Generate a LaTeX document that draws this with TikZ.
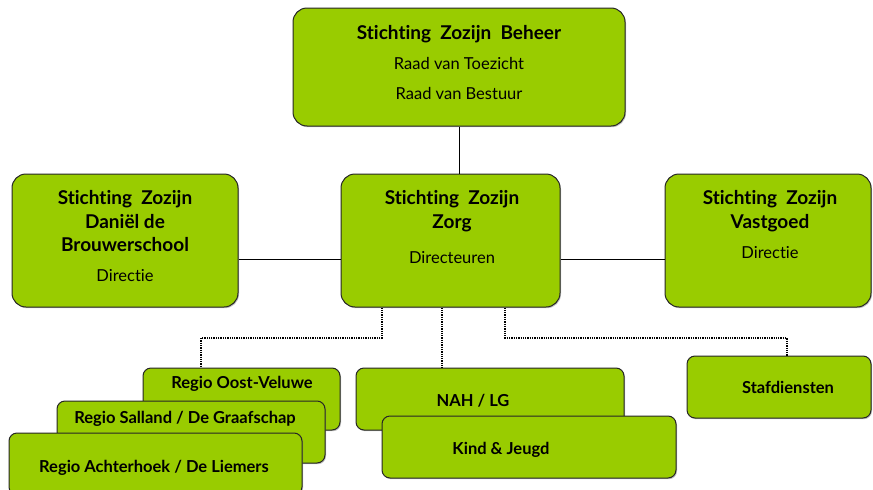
\documentclass[tikz,border=0pt]{standalone}
\usepackage{fontspec}
\setmainfont{Lato}[Ligatures=CommonOff]
\usepackage{xcolor}
\definecolor{zozijngreen}{HTML}{99CC00}
\usetikzlibrary{shadows}

\begin{document}
\begin{tikzpicture}[x=1pt,y=-1pt,
	box/.style={draw=black!85, line width=1pt, fill=zozijngreen, inner sep=0pt,
		drop shadow={shadow xshift=1pt, shadow yshift=-1.2pt, opacity=0.5}},
	lbl/.style={text height=1.5ex, text depth=.25ex, yshift=-3pt},
	title/.style={lbl, font=\bfseries\fontsize{19}{22}\selectfont},
	sub/.style={lbl, font=\fontsize{16.5}{19}\selectfont},
	unit/.style={lbl, font=\bfseries\fontsize{16.5}{19}\selectfont},
	link/.style={line width=0.9pt},
	dotlink/.style={line width=1.3pt, densely dotted}]
				\clip (0,0) rectangle (873,490);
				
				% top row and middle row
				\foreach \n/\x/\y/\w/\h in
				{beheer/459/67/332/118, daniel/125/240.5/226/133,
				 zorg/450.5/240.5/219/133, vastgoed/768/240.5/206/133}{
					\node[box, rounded corners=14pt, minimum width=\w pt, minimum height=\h pt] (\n) at (\x,\y) {};
				}
				
				% units (back to front)
				\foreach \n/\x/\y/\w/\h in
				{oost/241.5/399/197/62, salland/191/432/268/62, achter/155.5/464/293/62,
				 nah/490/399/268/62, kind/529/447/294/62, staf/779/387/184/62}{
					\node[box, rounded corners=8pt, minimum width=\w pt, minimum height=\h pt] (\n) at (\x,\y) {};
				}
				
				% texts
				\node[title] (beheerT) at (459,33) {Stichting~ Zozijn~ Beheer};
				\node[sub] (beheerA) at (459,63) {Raad van Toezicht};
				\node[sub] (beheerB) at (459,93) {Raad van Bestuur};
				
				\node[title] (danielT) at (125,198) {Stichting~ Zozijn};
				\node[title] (danielU) at (125,222) {Daniël de};
				\node[title] (danielV) at (125,245) {Brouwerschool};
				\node[sub] (danielA) at (125,275) {Directie};
				
				\node[title] (zorgT) at (452,198) {Stichting~ Zozijn};
				\node[title] (zorgU) at (452,222) {Zorg};
				\node[sub] (zorgA) at (452,257) {Directeuren};
				
				\node[title] (vastgoedT) at (770,198) {Stichting~ Zozijn};
				\node[title] (vastgoedU) at (770,222) {Vastgoed};
				\node[sub] (vastgoedA) at (770,252) {Directie};
				
				\node[unit] (oostT) at (242,382) {Regio Oost-Veluwe};
				\node[unit] (sallandT) at (185,417) {Regio Salland / De Graafschap};
				\node[unit] (achterT) at (154,466) {Regio Achterhoek / De Liemers};
				\node[unit] (nahT) at (473,400) {NAH / LG};
				\node[unit] (kindT) at (501,448) {Kind \& Jeugd};
				\node[unit] (stafT) at (788,387) {Stafdiensten};
				
				% solid links
				\draw[link] (beheer.south) -- (beheer.south |- zorg.north);
				\draw[link] ([yshift=-18.5pt]daniel.east) -- ([yshift=-18.5pt]zorg.west);
				\draw[link] ([yshift=-18.5pt]zorg.east) -- ([yshift=-18.5pt]vastgoed.west);
				
				% dotted links
				\coordinate (bendL) at (201,338);
				\coordinate (bendR) at (787,338);
				\draw[dotlink] ([xshift=-68.5pt]zorg.south) |- (bendL) -- (bendL |- oost.north);
				\draw[dotlink] ([xshift=-8.5pt]zorg.south) coordinate (midtap) -- (midtap |- nah.north);
				\draw[dotlink] ([xshift=54.5pt]zorg.south) |- (bendR) -- (bendR |- staf.north);
			\end{tikzpicture}
\end{document}
